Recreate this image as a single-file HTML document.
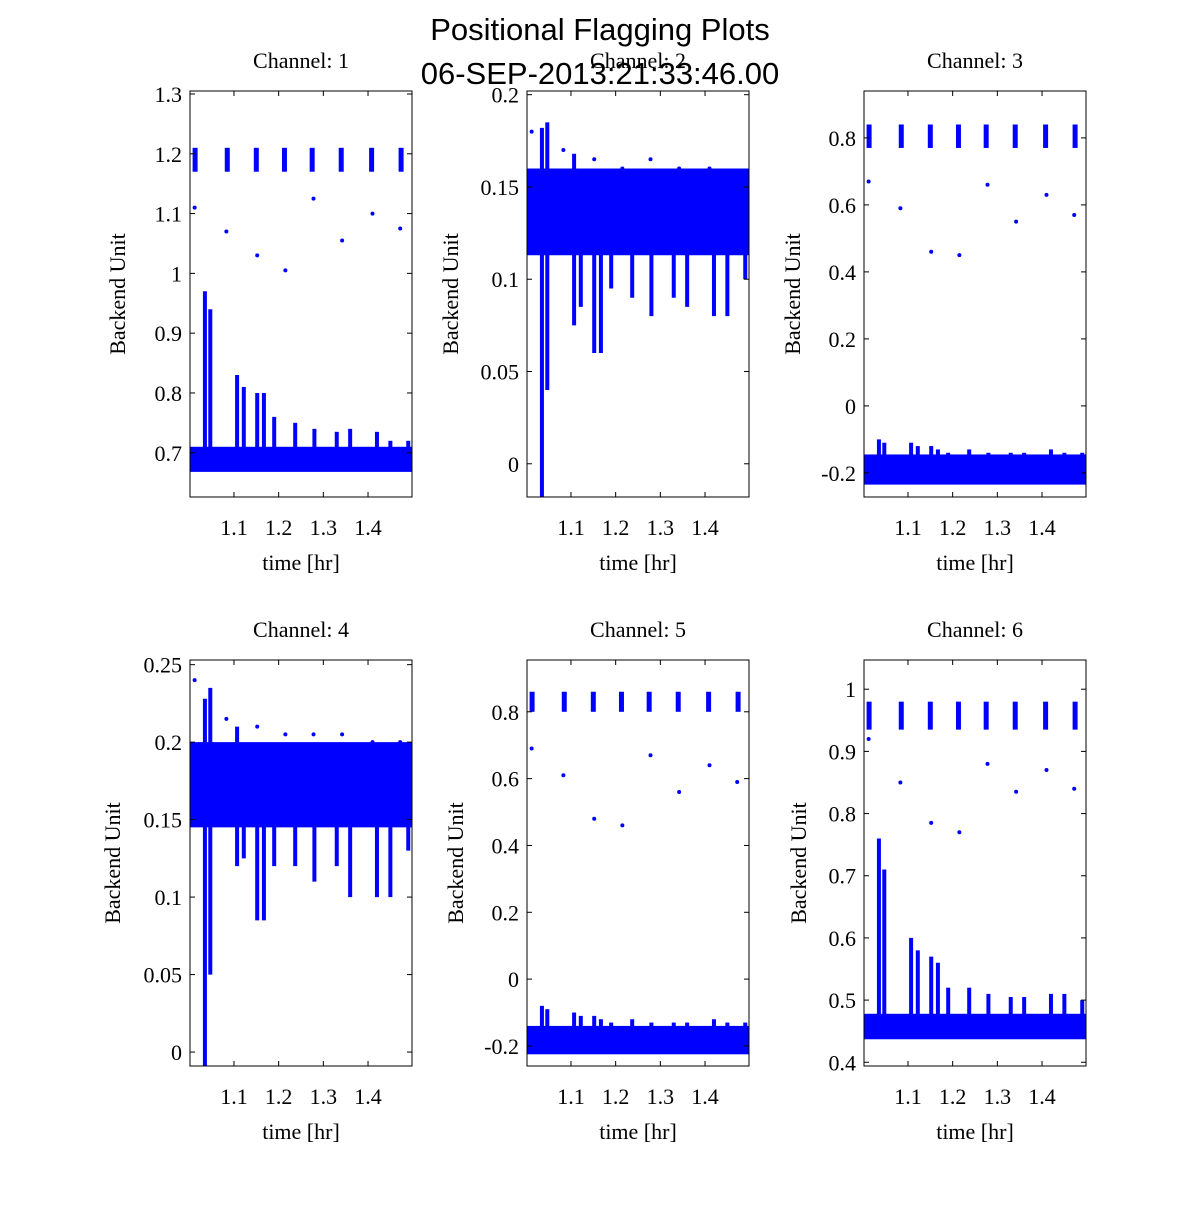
<!DOCTYPE html>
<html><head><meta charset="utf-8"><style>
body{margin:0;background:#fff}
svg text{font-family:"Liberation Serif",serif;fill:#000}
</style></head><body>
<svg id="fig" width="1200" height="1200" xmlns="http://www.w3.org/2000/svg">
<rect width="1200" height="1200" fill="#fff"/>
<text x="600" y="40" text-anchor="middle" style="font-family:'Liberation Sans',sans-serif;font-size:31px">Positional Flagging Plots</text>
<text x="600" y="84" text-anchor="middle" style="font-family:'Liberation Sans',sans-serif;font-size:31px">06-SEP-2013:21:33:46.00</text>
</svg>
<script>
const xTicks=[1.1,1.2,1.3,1.4];
const spikeTimes=[1.035,1.047,1.107,1.122,1.152,1.167,1.19,1.237,1.28,1.33,1.36,1.42,1.45,1.49];
const clusterTimes=[1.013,1.085,1.15,1.213,1.275,1.34,1.408,1.474];
const titles=["Channel: 1","Channel: 2","Channel: 3","Channel: 4","Channel: 5","Channel: 6"];
const yDomains=[[0.626,1.305],[-0.018,0.202],[-0.272,0.94],[-0.009,0.253],[-0.26,0.955],[0.394,1.047]];
const yTicks=[[0.7,0.8,0.9,1,1.1,1.2,1.3],[0,0.05,0.1,0.15,0.2],[-0.2,0,0.2,0.4,0.6,0.8],[0,0.05,0.1,0.15,0.2,0.25],[-0.2,0,0.2,0.4,0.6,0.8],[0.4,0.5,0.6,0.7,0.8,0.9,1]];
const yTickLabels=[["0.7","0.8","0.9","1","1.1","1.2","1.3"],["0","0.05","0.1","0.15","0.2"],["-0.2","0","0.2","0.4","0.6","0.8"],["0","0.05","0.1","0.15","0.2","0.25"],["-0.2","0","0.2","0.4","0.6","0.8"],["0.4","0.5","0.6","0.7","0.8","0.9","1"]];
const bandLow=[0.668,0.113,-0.235,0.145,-0.225,0.437];
const bandHigh=[0.71,0.16,-0.145,0.2,-0.14,0.478];
const spikeEnds=[
[0.97,0.94,0.83,0.81,0.80,0.80,0.76,0.75,0.74,0.735,0.74,0.735,0.72,0.72],
[-0.02,0.04,0.075,0.085,0.06,0.06,0.095,0.09,0.08,0.09,0.085,0.08,0.08,0.1],
[-0.1,-0.11,-0.11,-0.12,-0.12,-0.13,-0.14,-0.13,-0.14,-0.14,-0.14,-0.13,-0.14,-0.14],
[-0.01,0.05,0.12,0.125,0.085,0.085,0.12,0.12,0.11,0.12,0.1,0.1,0.1,0.13],
[-0.08,-0.09,-0.1,-0.11,-0.11,-0.12,-0.13,-0.12,-0.13,-0.13,-0.13,-0.12,-0.13,-0.13],
[0.76,0.71,0.60,0.58,0.57,0.56,0.52,0.52,0.51,0.505,0.505,0.51,0.51,0.5]];
const upSpikeTimes=[1.035,1.047,1.107];
const upSpikeEnds=[null,[0.182,0.185,0.168],null,[0.228,0.235,0.21],null,null];
const clusterLow=[1.17,null,0.77,null,0.8,0.935];
const clusterHigh=[1.21,null,0.84,null,0.86,0.98];
const outlierTimes=[1.012,1.083,1.152,1.215,1.278,1.342,1.41,1.472];
const outlierVals=[
[1.11,1.07,1.03,1.005,1.125,1.055,1.1,1.075],
[0.18,0.17,0.165,0.16,0.165,0.16,0.16,0.155],
[0.67,0.59,0.46,0.45,0.66,0.55,0.63,0.57],
[0.24,0.215,0.21,0.205,0.205,0.205,0.2,0.2],
[0.69,0.61,0.48,0.46,0.67,0.56,0.64,0.59],
[0.92,0.85,0.785,0.77,0.88,0.835,0.87,0.84]];
const xDomain=[1.0016,1.4984];
const boxes=[[190,91],[527,91],[864,91],[190,660],[527,660],[864,660]];
const W=222,H=406;
const svg=document.getElementById('fig');
const NS="http://www.w3.org/2000/svg";
function mk(t,a,p){const e=document.createElementNS(NS,t);for(const k in a)e.setAttribute(k,a[k]);(p||svg).appendChild(e);return e;}
for(let i=0;i<6;i++){
 const [bx,by]=boxes[i];const yd=yDomains[i];
 const sx=v=>bx+(v-xDomain[0])/(xDomain[1]-xDomain[0])*W;
 const sy=v=>by+H-(v-yd[0])/(yd[1]-yd[0])*H;
 const g=mk('g',{});
 
 
 const clip=mk('clipPath',{id:'c'+i},g);mk('rect',{x:bx,y:by,width:W,height:H},clip);
 const pg=mk('g',{'clip-path':'url(#c'+i+')'},g);
 const band=mk('rect',{x:bx,y:sy(bandHigh[i]),width:W,height:sy(bandLow[i])-sy(bandHigh[i]),fill:'#0000ff'},pg);
 
 
 const mid=(bandLow[i]+bandHigh[i])/2;
 spikeTimes.forEach((t,k)=>{
  const l=mk('line',{x1:sx(t),x2:sx(t),y1:sy(mid),y2:sy(spikeEnds[i][k]),stroke:'#0000ff','stroke-width':4},pg);
  
  
 });
 if(upSpikeEnds[i]){upSpikeTimes.forEach((t,k)=>{
  const u=mk('line',{x1:sx(t),x2:sx(t),y1:sy(mid),y2:sy(upSpikeEnds[i][k]),stroke:'#0000ff','stroke-width':4},pg);
  
  
 });}
 if(clusterLow[i]!==null){clusterTimes.forEach(t=>{
  const c=mk('line',{x1:sx(t),x2:sx(t),y1:sy(clusterHigh[i]),y2:sy(clusterLow[i]),stroke:'#0000ff','stroke-width':5},pg);
  
  
 });}
 outlierTimes.forEach((t,k)=>{
  const d=mk('circle',{cx:sx(t),cy:sy(outlierVals[i][k]),r:2,fill:'#0000ff'},pg);
  
  
 });
 mk('rect',{x:bx,y:by,width:W,height:H,fill:'none',stroke:'#000','stroke-width':1},g);
 xTicks.forEach(v=>{const x=sx(v);
  mk('line',{x1:x,x2:x,y1:by+H,y2:by+H-5,stroke:'#000'},g);mk('line',{x1:x,x2:x,y1:by,y2:by+5,stroke:'#000'},g);
  const t=mk('text',{x:x,y:by+H+38,'text-anchor':'middle','font-size':22},g);t.textContent=v.toFixed(1);
  
  
 });
 yTicks[i].forEach((v,k)=>{const y=sy(v);
  mk('line',{x1:bx,x2:bx+5,y1:y,y2:y,stroke:'#000'},g);mk('line',{x1:bx+W,x2:bx+W-5,y1:y,y2:y,stroke:'#000'},g);
  const t=mk('text',{x:bx-8,y:y+8,'text-anchor':'end','font-size':22},g);t.textContent=yTickLabels[i][k];
  
  
 });
 const tt=mk('text',{x:bx+W/2,y:by-23,'text-anchor':'middle','font-size':22},g);tt.textContent=titles[i];
 
 
 const xl=mk('text',{x:bx+W/2,y:by+H+73,'text-anchor':'middle','font-size':22},g);xl.textContent='time [hr]';
 
 
 const yx=[125,458,800,120,463,806][i];
 const yl=mk('text',{x:yx,y:by+H/2,'text-anchor':'middle','font-size':22,transform:'rotate(-90 '+yx+' '+(by+H/2)+')'},g);yl.textContent='Backend Unit';
 
 
}
</script>
</body></html>
